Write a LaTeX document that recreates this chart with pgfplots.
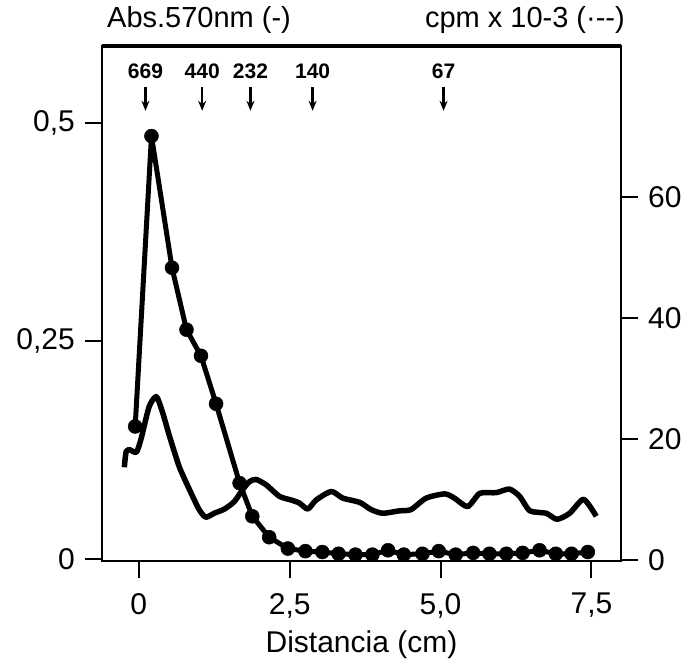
\documentclass[border=0pt]{standalone}
\usepackage{pgfplots}
\pgfplotsset{compat=1.18}
\usepackage{fontspec}
\setmainfont{Liberation Sans}
\usetikzlibrary{arrows.meta}
\tikzset{arr/.style={line width=2.5pt, -{Stealth[length=10pt,width=8pt]}},
 num/.style={anchor=base, inner sep=0pt, font=\bfseries\fontsize{21}{24}\selectfont}}
\begin{document}
\fontsize{30}{36}\selectfont
\begin{tikzpicture}
\useasboundingbox (-102pt,-99pt) rectangle (585pt,561pt);
\begin{axis}[at={(0,0)}, anchor=south west, scale only axis, width=519pt, height=515pt,
 xmin=-0.61, xmax=7.99, ymin=-0.0023, ymax=0.5883,
 axis line style={line width=2.5pt},
 xtick={0,2.5,5,7.5}, xticklabels={0,{2,5},{5,0},{7,5}},
 ytick={0,0.25,0.5}, yticklabels={0,{0,25},{0,5}},
 xtick pos=bottom, ytick pos=left, tick align=outside, major tick length=17pt,
 tick style={line width=2pt, black},
 /pgf/number format/assume math mode=true,
 tick label style={font=\fontsize{30}{36}\selectfont},
 xticklabel style={yshift=-5pt},
 label style={font=\fontsize{30}{36}\selectfont},
 xlabel={Distancia (cm)},
 xlabel style={yshift=7pt},
 clip=false]
\addplot[black, line width=5pt, line join=round, mark=*, mark size=7pt, mark options={line width=0.5pt}] coordinates {
(-0.06,0.152) (0.21,0.485) (0.55,0.334) (0.79,0.263) (1.03,0.233) (1.28,0.178)
(1.67,0.087) (1.88,0.049) (2.16,0.025) (2.47,0.012) (2.76,0.009) (3.04,0.008)
(3.31,0.006) (3.59,0.005) (3.87,0.005) (4.13,0.010) (4.39,0.005) (4.70,0.006)
(4.97,0.009) (5.25,0.005) (5.54,0.007) (5.81,0.006) (6.09,0.006) (6.36,0.007)
(6.64,0.010) (6.91,0.006) (7.17,0.006) (7.44,0.008)};
\draw[line width=4.5pt] (rel axis cs:0,1) -- (rel axis cs:1,1);
\node[anchor=base west, inner sep=0pt, font=\fontsize{29}{34}\selectfont] at (rel axis cs:0,1) [xshift=5pt, yshift=18pt] {Abs.570nm (-)};
\node[anchor=base east, inner sep=0pt, font=\fontsize{29}{34}\selectfont] at (rel axis cs:1,1) [xshift=4pt, yshift=18pt] {cpm x 10-3 (·-{}-)};
\node[num] at (axis cs:0.11,0.5505) {669};
\node[num] at (axis cs:1.05,0.5505) {440};
\node[num] at (axis cs:1.85,0.5505) {232};
\node[num] at (axis cs:2.88,0.5505) {140};
\node[num] at (axis cs:5.05,0.5505) {67};
\draw[arr] (axis cs:0.11,0.541) -- (axis cs:0.11,0.514);
\draw[arr] (axis cs:1.05,0.541) -- (axis cs:1.05,0.514);
\draw[arr] (axis cs:1.85,0.541) -- (axis cs:1.85,0.514);
\draw[arr] (axis cs:2.88,0.541) -- (axis cs:2.88,0.514);
\draw[arr] (axis cs:5.05,0.541) -- (axis cs:5.05,0.514);
\end{axis}
\begin{axis}[at={(0,0)}, anchor=south west, scale only axis, width=519pt, height=515pt,
 xmin=-0.61, xmax=7.99, ymin=-0.2, ymax=85,
 axis x line=none, axis y line*=right,
 axis line style={line width=2.5pt},
 ytick={0,20,40,60},
 tick align=outside, major tick length=17pt,
 tick style={line width=2pt, black},
 /pgf/number format/assume math mode=true,
 tick label style={font=\fontsize{30}{36}\selectfont}]
\addplot[black, line width=5.5pt, line join=round, smooth, tension=0.4] coordinates {
(-0.24,15.3) (-0.21,17.9) (-0.15,18.2) (-0.04,17.8) (0.04,20.1) (0.17,25.3)
(0.29,27.0) (0.39,24.5) (0.51,20.4) (0.67,15.4) (0.84,11.6) (1.0,8.3)
(1.11,7.05) (1.25,7.7) (1.42,8.4) (1.58,9.6) (1.72,11.6) (1.83,12.9)
(1.94,13.3) (2.11,12.4) (2.33,10.5) (2.52,9.9) (2.66,9.4) (2.80,8.4)
(2.94,9.9) (3.19,11.3) (3.38,10.2) (3.66,9.5) (3.85,8.3) (4.04,7.7)
(4.32,8.1) (4.51,8.3) (4.76,10.2) (5.07,10.9) (5.23,10.2) (5.45,8.8)
(5.65,11.0) (5.92,11.1) (6.14,11.7) (6.31,10.5) (6.48,8.1) (6.75,7.7)
(6.93,6.7) (7.14,7.7) (7.37,10.0) (7.58,7.2)};
\end{axis}
\end{tikzpicture}
\end{document}
